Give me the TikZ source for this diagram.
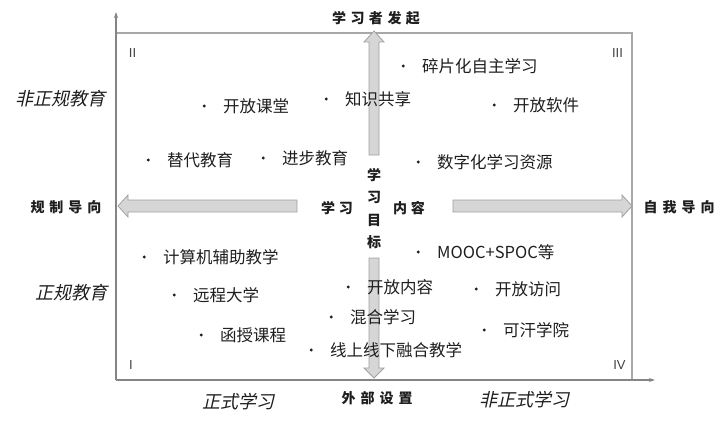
\documentclass[tikz,border=0pt]{standalone}
\usepackage{fontspec}
\setmainfont{Liberation Sans}
\newfontfamily\cjk{Noto Sans CJK SC}
\newfontfamily\cjkit[FakeSlant=0.22]{Noto Sans CJK SC}
\usetikzlibrary{arrows.meta}
\definecolor{boxline}{HTML}{A8A8A8}
\definecolor{axisline}{HTML}{858585}
\definecolor{arrfill}{HTML}{D6D6D6}
\definecolor{arrdraw}{HTML}{A0A0A0}
\definecolor{txt}{HTML}{1E1E1E}
\begin{document}
\begin{tikzpicture}[x=1pt,y=-1pt,
  item/.style={anchor=west, inner sep=0pt, text=txt,
    font=\cjk\fontsize{16.5}{18}\selectfont,
    label={[circle, fill=txt, inner sep=0pt, minimum size=3.2pt, label distance=17pt]left:{}}},
  axlbl/.style={inner sep=0pt, text=txt, font=\cjk\bfseries\fontsize{14}{14}\selectfont},
  itlbl/.style={inner sep=0pt, text=txt, font=\cjkit\fontsize{18}{18}\selectfont},
  roman/.style={inner sep=0pt, text=black!75, font=\fontsize{13}{13}\selectfont},
  blockarrow/.style={fill=arrfill, draw=arrdraw, line width=0.8pt, line join=miter},
  axis/.style={draw=axisline, line width=1.1pt, -{Stealth[length=6pt,width=4pt]}},
  frame/.style={draw=boxline, line width=1.3pt}]
\useasboundingbox (0,0) rectangle (727,420);

% axes and frame
\coordinate (O) at (116,380);
\coordinate (ytop) at (116,12);
\coordinate (xend) at (655,380);
\coordinate (tl) at (116,33);
\coordinate (tr) at (632,33);
\coordinate (br) at (632,380);
\draw[frame] (tl) -- (tr) -- (br);
\draw[axis] (O) -- (ytop);
\draw[axis] (O) -- (xend);

% block arrows
\path[blockarrow] (369,155) -- (369,42) -- (364,42) -- (374,31) -- (384,42) -- (379,42) -- (379,155) -- cycle;
\path[blockarrow] (369,258) -- (369,368) -- (364,368) -- (374,378) -- (384,368) -- (379,368) -- (379,258) -- cycle;
\path[blockarrow] (297,200) -- (128,200) -- (128,195) -- (118,206) -- (128,217) -- (128,212) -- (297,212) -- cycle;
\path[blockarrow] (453,200) -- (622,200) -- (622,195) -- (632,206) -- (622,217) -- (622,212) -- (453,212) -- cycle;

% axis labels
\node[axlbl] (learner) at (376,18) {学\hspace{4.5pt}习\hspace{4.5pt}者\hspace{4.5pt}发\hspace{4.5pt}起};
\node[axlbl] (reg) at (66,207) {规\hspace{5pt}制\hspace{5pt}导\hspace{5pt}向};
\node[axlbl] (self) at (679,207) {自\hspace{5pt}我\hspace{5pt}导\hspace{5pt}向};
\node[axlbl] (ext) at (377,398) {外\hspace{5pt}部\hspace{5pt}设\hspace{5pt}置};
\node[axlbl] (cl) at (337,208) {学\hspace{4pt}习};
\node[axlbl] (cr) at (409,208) {内\hspace{4pt}容};
\node[axlbl, align=center, font=\cjk\bfseries\fontsize{14}{22.3}\selectfont] (cv) at (374,208.5) {学\\习\\目\\标};

% italic labels
\node[itlbl] (nfe) at (60,99) {非正规教育};
\node[itlbl] (fe) at (71,293) {正规教育};
\node[itlbl] (fl) at (238,402) {正式学习};
\node[itlbl] (nfl) at (524,400) {非正式学习};

% quadrant numerals
\node[roman] (q2) at (132.5,53) {II};
\node[roman] (q3) at (617.5,53) {III};
\node[roman] (q1) at (131,365) {I};
\node[roman] (q4) at (619.5,365) {IV};

% items
\node[item] (i1) at (223,106) {开放课堂};
\node[item] (i2) at (345,99) {知识共享};
\node[item] (i3) at (422,66) {碎片化自主学习};
\node[item] (i4) at (513,105) {开放软件};
\node[item] (i5) at (167,160) {替代教育};
\node[item] (i6) at (282,158) {进步教育};
\node[item] (i7) at (437,162) {数字化学习资源};
\node[item] (i8) at (163,257) {计算机辅助教学};
\node[item] (i9) at (437,252) {MOOC+SPOC等};
\node[item] (i10) at (193,295) {远程大学};
\node[item] (i11) at (367,287) {开放内容};
\node[item] (i12) at (495,289) {开放访问};
\node[item] (i13) at (350,317) {混合学习};
\node[item] (i14) at (220,335) {函授课程};
\node[item] (i15) at (503,330) {可汗学院};
\node[item] (i16) at (330,350) {线上线下融合教学};
\end{tikzpicture}
\end{document}
